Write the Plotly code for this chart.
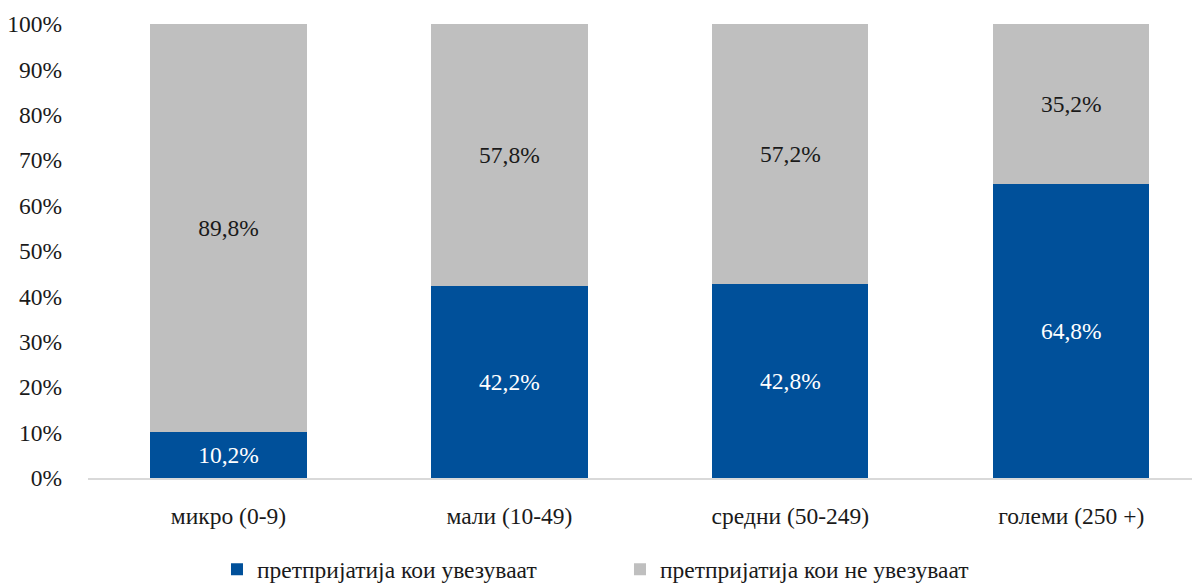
import plotly.graph_objects as go

categories = ["микро (0-9)", "мали (10-49)", "средни (50-249)", "големи (250 +)"]
importers = [10.2, 42.2, 42.8, 64.8]
non_importers = [89.8, 57.8, 57.2, 35.2]
series_names = ["претпријатија кои увезуваат", "претпријатија кои не увезуваат"]
y_ticks = [0, 10, 20, 30, 40, 50, 60, 70, 80, 90, 100]
y_tick_labels = [f"{v}%" for v in y_ticks]

FONT = "Liberation Serif"
FS = 23.5

def fmt(v):
    return f"{v:.1f}%".replace(".", ",")

fig = go.Figure()
fig.add_trace(go.Bar(
    x=categories, y=importers, name=series_names[0],
    marker=dict(color="#00509a", line=dict(width=0)),
    text=[fmt(v) for v in importers], textposition="inside", insidetextanchor="middle",
    textfont=dict(family=FONT, size=FS, color="white"),
    insidetextfont=dict(family=FONT, size=FS, color="white"),
    width=0.556, cliponaxis=False,
))
fig.add_trace(go.Bar(
    x=categories, y=non_importers, name=series_names[1],
    marker=dict(color="#bfbfbf", line=dict(width=0)),
    text=[fmt(v) for v in non_importers], textposition="inside", insidetextanchor="middle",
    textfont=dict(family=FONT, size=FS, color="#1a1a1a"),
    insidetextfont=dict(family=FONT, size=FS, color="#1a1a1a"),
    width=0.556, cliponaxis=False,
))

# page has an 8px body margin, so the figure is sized to fill the rest of the window
fig.update_layout(
    barmode="stack",
    width=1192, height=577,
    margin=dict(l=80, r=0, t=16, b=107, autoexpand=False),
    paper_bgcolor="white", plot_bgcolor="white",
    font=dict(family=FONT, size=FS, color="#1a1a1a"),
    uniformtext=dict(mode=False),
    showlegend=True,
    legend=dict(
        orientation="h", x=0.116, xanchor="left",
        yref="container", y=0.027, yanchor="middle",
        font=dict(family=FONT, size=FS, color="#1a1a1a"),
        entrywidth=358, entrywidthmode="pixels",
        traceorder="normal",
    ),
    xaxis=dict(
        range=[-0.5, 3.458], showgrid=False, zeroline=False,
        showline=True, linecolor="#d9d9d9", linewidth=2,
        ticks="", tickfont=dict(family=FONT, size=FS, color="#1a1a1a"),
        ticklabelstandoff=16, automargin=False,
    ),
    yaxis=dict(
        range=[0, 100], tickvals=y_ticks, ticktext=y_tick_labels,
        showgrid=False, zeroline=False, showline=False, ticks="",
        tickfont=dict(family=FONT, size=FS, color="#1a1a1a"),
        ticklabelstandoff=25, automargin=False,
    ),
)

fig.write_html("out.html")
